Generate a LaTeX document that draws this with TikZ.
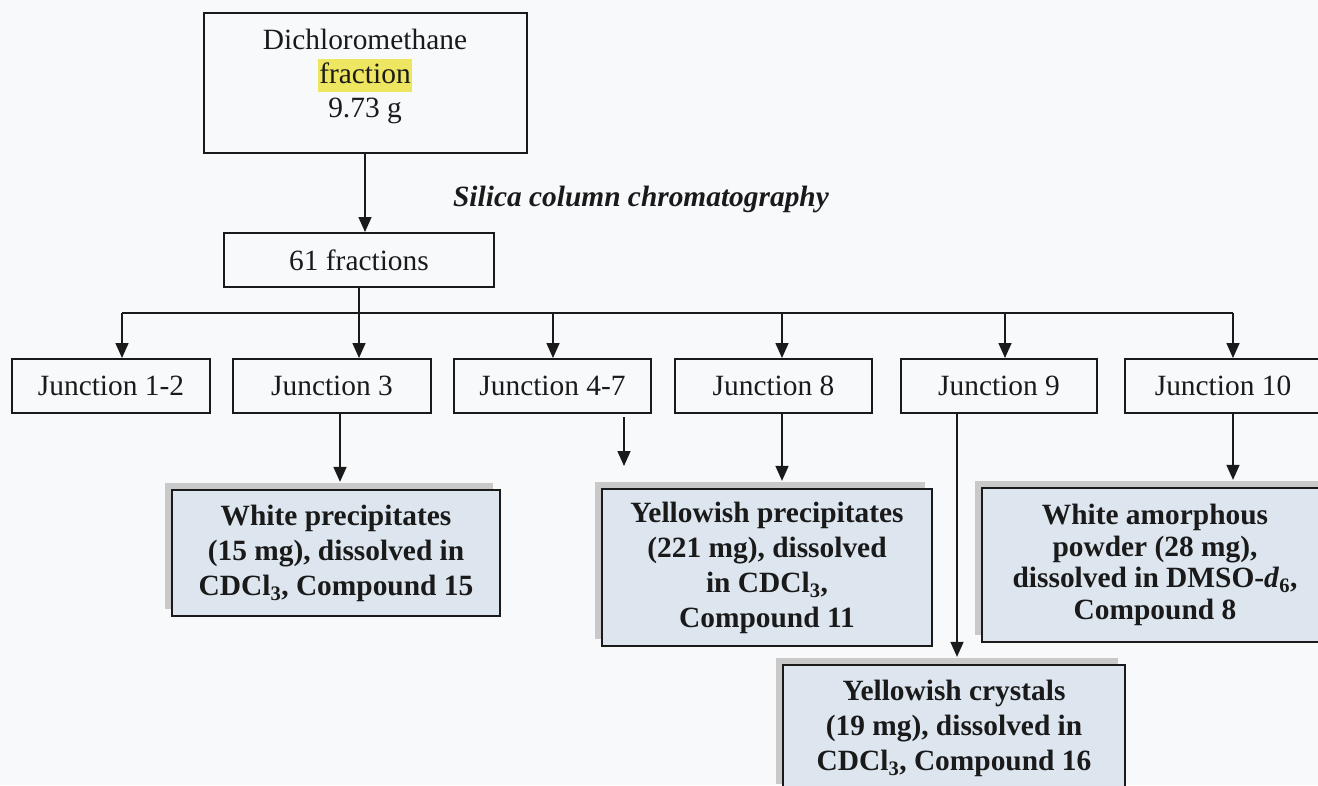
\documentclass[tikz,border=0pt]{standalone}
\usepackage{fontspec}
\setmainfont{Liberation Serif}
\usetikzlibrary{arrows.meta,shadows,calc}
\definecolor{pagebg}{HTML}{F8F9FB}
\definecolor{resfill}{HTML}{DDE6EF}
\definecolor{hilite}{HTML}{EEE660}
\definecolor{inkc}{HTML}{1A1A1A}
\setlength{\fboxsep}{1pt}

\begin{document}
\begin{tikzpicture}[x=1pt,y=-1pt,
  every node/.style={font=\fontsize{29.4}{34}\selectfont, text=inkc},
  stepbox/.style={draw=inkc, line width=2pt, inner sep=0pt, align=center},
  resbox/.style={draw=inkc, line width=2.3pt, fill=resfill, inner sep=0pt, align=center,
    font=\fontsize{29.4}{35}\selectfont\bfseries,
    general shadow={shadow xshift=-7pt, shadow yshift=7pt, fill=gray!42}},
  link/.style={draw=inkc, line width=1.6pt},
  arr/.style={link, -{Triangle[width=13pt,length=15pt]}},
]
% page
\fill[pagebg] (0,0) rectangle (1318,785);
\useasboundingbox (0,0) rectangle (1318,785);

% source and column fractions
\node[stepbox, minimum width=323pt, minimum height=140pt, text depth=19pt] (top) at (365,83)
  {Dichloromethane\\ \colorbox{hilite}{\rule[-7pt]{0pt}{31pt}fraction}\\ 9.73 g};
\node[stepbox, minimum width=270pt, minimum height=54pt] (f61) at (359,260) {61 fractions};
\node[font=\fontsize{29.4}{34}\selectfont\bfseries\itshape] (silica) at (641,199) {Silica column chromatography};

% pooled junctions
\foreach \nm/\cx/\w/\txt in {j12/111/198/Junction 1-2, j3/332/198/Junction 3, j47/552.5/197/Junction 4-7,
    j8/773.5/197/Junction 8, j9/999/196/Junction 9, j10/1223/197/Junction 10}
  \node[stepbox, minimum width=\w pt, minimum height=54pt] (\nm) at (\cx,386) {\txt};

% isolated compounds
\node[resbox, minimum width=328pt, minimum height=126pt] (wp) at (336,553)
  {White precipitates\\ (15 mg), dissolved in\\ CDCl\textsubscript{3}, Compound 15};
\node[resbox, minimum width=330pt, minimum height=157pt] (yp) at (767,567.5)
  {Yellowish precipitates\\ (221 mg), dissolved\\ in CDCl\textsubscript{3},\\ Compound 11};
\node[resbox, minimum width=346pt, minimum height=154pt, font=\fontsize{29.4}{31.5}\selectfont\bfseries] (wa) at (1155,565)
  {White amorphous\\ powder (28 mg),\\ dissolved in DMSO-\textit{d}\textsubscript{6},\\ Compound 8};
\node[resbox, minimum width=342pt, minimum height=126pt] (yc) at (954,728)
  {Yellowish crystals\\ (19 mg), dissolved in\\ CDCl\textsubscript{3}, Compound 16};

% branching points
\coordinate (busL) at (122,313);
\coordinate (busR) at (1233,313);
\coordinate (d47) at (553,313);
\coordinate (d8) at (782,313);
\coordinate (d9) at (1005,313);
\coordinate (c3) at (340,0);
\coordinate (c9) at (957,0);
\coordinate (s47) at (624,417);
\coordinate (e47) at (624,466);

% connectors
\draw[arr] (top.south) -- (top.south |- f61.north);
\draw[link] (f61.south) -- (f61.south |- busL);
\draw[link] (busL) -- (busR);
\draw[arr] (busL) -- (busL |- j12.north);
\draw[arr] (f61.south |- busL) -- (f61.south |- j3.north);
\draw[arr] (d47) -- (d47 |- j47.north);
\draw[arr] (d8) -- (d8 |- j8.north);
\draw[arr] (d9) -- (d9 |- j9.north);
\draw[arr] (busR) -- (busR |- j10.north);

\draw[arr] (c3 |- j3.south) -- ($(c3 |- wp.north)+(0,-7)$);
\draw[arr] (s47) -- (e47);
\draw[arr] (d8 |- j8.south) -- ($(d8 |- yp.north)+(0,-7)$);
\draw[arr] (c9 |- j9.south) -- ($(c9 |- yc.north)+(0,-7)$);
\draw[arr] (busR |- j10.south) -- ($(busR |- wa.north)+(0,-7)$);
\end{tikzpicture}
\end{document}
